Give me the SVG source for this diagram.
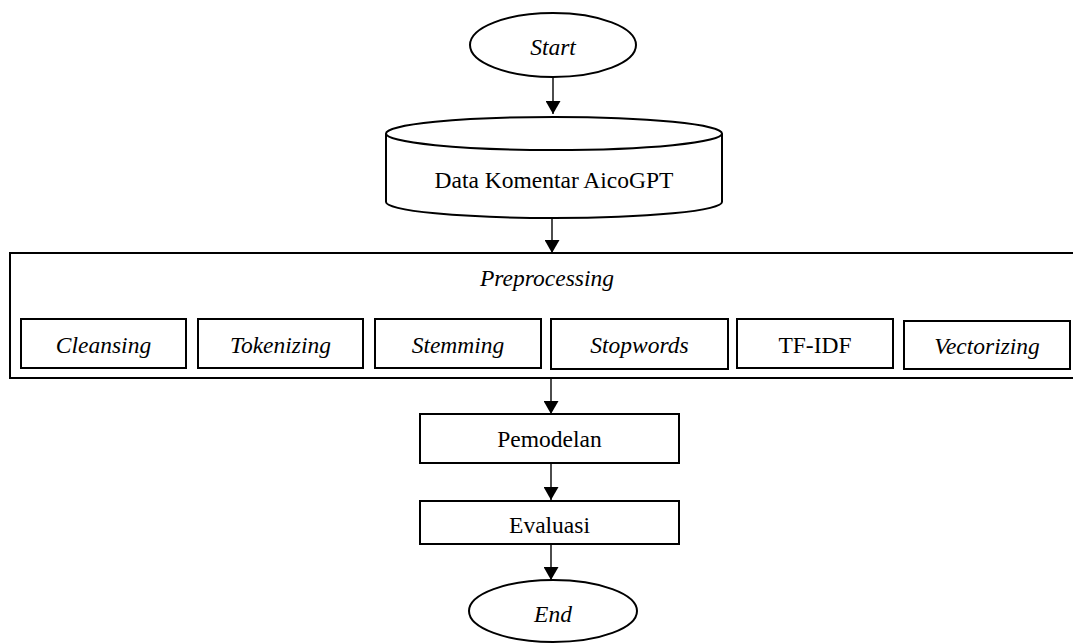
<svg xmlns="http://www.w3.org/2000/svg" width="1073" height="644" viewBox="0 0 1073 644">
<style>
.s{fill:#fff;stroke:#000;stroke-width:2}
.t{font-family:"Liberation Serif","Times New Roman",serif;font-size:23.5px;fill:#000;text-anchor:middle}
.i{font-style:italic}
.c{stroke:#000;stroke-width:1.4;fill:none}
</style>
<defs>
<marker id="ah" markerWidth="13" markerHeight="15" refX="13" refY="7.5" orient="auto" markerUnits="userSpaceOnUse">
<path d="M0,0 L13,7.5 L0,15 Z" fill="#000"/>
</marker>
</defs>
<rect width="1073" height="644" fill="#fff"/>
<g id="connectors">
<line class="c" x1="553" y1="77" x2="553" y2="114" marker-end="url(#ah)"/>
<line class="c" x1="552" y1="218" x2="552" y2="253" marker-end="url(#ah)"/>
<line class="c" x1="551" y1="378" x2="551" y2="414" marker-end="url(#ah)"/>
<line class="c" x1="551" y1="463" x2="551" y2="500" marker-end="url(#ah)"/>
<line class="c" x1="551" y1="544" x2="551" y2="580" marker-end="url(#ah)"/>
</g>
<g id="start">
<ellipse class="s" cx="553" cy="45" rx="83" ry="32"/>
<text class="t i" x="553" y="55">Start</text>
</g>
<g id="data">
<path class="s" d="M386,133.5 L386,202 A168,16 0 0 0 722,202 L722,133.5"/>
<ellipse class="s" cx="554" cy="133.5" rx="168" ry="16.5"/>
<text class="t" x="554" y="188">Data Komentar AicoGPT</text>
</g>
<g id="preprocessing">
<rect class="s" x="10" y="253" width="1075" height="125"/>
<text class="t i" x="547" y="286">Preprocessing</text>
</g>
<g id="cleansing">
<rect class="s" x="21" y="319" width="165" height="49"/>
<text class="t i" x="103.5" y="353">Cleansing</text>
</g>
<g id="tokenizing">
<rect class="s" x="198" y="319" width="165" height="49"/>
<text class="t i" x="280.5" y="353">Tokenizing</text>
</g>
<g id="stemming">
<rect class="s" x="375" y="319" width="166" height="49"/>
<text class="t i" x="458" y="353">Stemming</text>
</g>
<g id="stopwords">
<rect class="s" x="551" y="319" width="177" height="50"/>
<text class="t i" x="639.5" y="353">Stopwords</text>
</g>
<g id="tfidf">
<rect class="s" x="737" y="319" width="156" height="49"/>
<text class="t" x="815" y="353">TF-IDF</text>
</g>
<g id="vectorizing">
<rect class="s" x="904" y="321" width="166" height="48"/>
<text class="t i" x="987" y="354">Vectorizing</text>
</g>
<g id="pemodelan">
<rect class="s" x="420" y="414" width="259" height="49"/>
<text class="t" x="549.5" y="447">Pemodelan</text>
</g>
<g id="evaluasi">
<rect class="s" x="420" y="501" width="259" height="43"/>
<text class="t" x="549.5" y="533">Evaluasi</text>
</g>
<g id="end">
<ellipse class="s" cx="553" cy="611" rx="84" ry="31"/>
<text class="t i" x="553" y="622">End</text>
</g>
</svg>
